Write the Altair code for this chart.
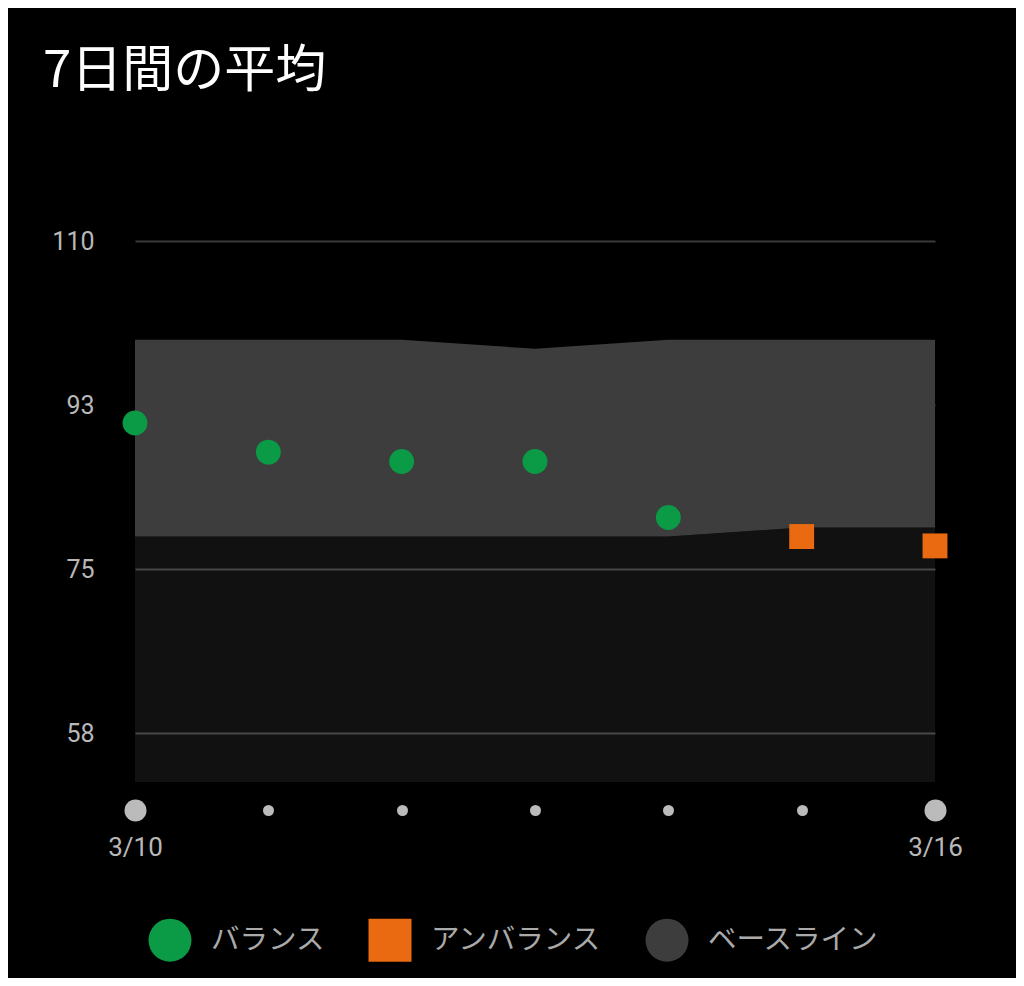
import altair as alt
import pandas as pd

dates = ["3/10", "3/11", "3/12", "3/13", "3/14", "3/15", "3/16"]
base_upper = [99.56, 99.56, 99.56, 98.61, 99.56, 99.56, 99.56]
base_lower = [78.77, 78.77, 78.77, 78.77, 78.77, 79.72, 79.72]
values = [90.76, 87.69, 86.70, 86.70, 80.78, 78.77, 77.78]
status = ["バランス", "バランス", "バランス", "バランス", "バランス", "アンバランス", "アンバランス"]

legend_names = ["バランス", "アンバランス", "ベースライン"]
legend_colors = ["#0b9a45", "#ea6a11", "#3d3d3d"]
legend_shapes = ["circle", "square", "circle"]

y_ticks = [58, 75.333, 92.667, 110]
y_domain = [52.83, 110]

band_df = pd.DataFrame({"date": dates, "upper": base_upper, "lower": base_lower})
pts_df = pd.DataFrame({"date": dates, "value": values, "status": status})

JP = "Noto Sans CJK JP"
NUM = "Roboto"

x_enc = alt.X(
    "date:O",
    sort=dates,
    scale=alt.Scale(type="point", padding=0),
    axis=alt.Axis(
        title=None,
        domain=False,
        grid=False,
        ticks=True,
        tickSize=0.01,
        tickCap="round",
        tickColor="#bbbbbb",
        tickWidth={"condition": {"test": "datum.value == '3/10' || datum.value == '3/16'", "value": 22}, "value": 11},
        offset=28,
        labelAngle=0,
        labelExpr="(datum.value == '3/10' || datum.value == '3/16') ? datum.label : ''",
        labelFont=NUM,
        labelFontSize=26,
        labelColor="#b8b8b8",
        labelPadding=24,
    ),
)

y_scale = alt.Scale(domain=y_domain, nice=False, zero=False)
y_axis = alt.Axis(
    title=None,
    values=y_ticks,
    format=".0f",
    domain=False,
    ticks=False,
    tickSize=0,
    labelFont=NUM,
    labelFontSize=25,
    labelColor="#b8b8b8",
    labelPadding=41,
    gridColor="#3a3a3a",
    gridWidth=2,
    zindex=0,
)

lower_area = alt.Chart(band_df).mark_area(color="#ffffff", opacity=0.067, interpolate="linear").encode(
    x=x_enc,
    y=alt.Y("lower:Q", scale=y_scale, axis=y_axis, stack=None),
)

band = alt.Chart(band_df).mark_area(color="#3d3d3d", opacity=1, interpolate="linear").encode(
    x=alt.X("date:O", sort=dates),
    y=alt.Y("lower:Q", stack=None),
    y2="upper:Q",
)

points = alt.Chart(pts_df).mark_point(filled=True, opacity=1, size=620, strokeWidth=0).encode(
    x=alt.X("date:O", sort=dates),
    y=alt.Y("value:Q"),
    color=alt.Color(
        "status:N",
        scale=alt.Scale(domain=legend_names, range=legend_colors),
        legend=alt.Legend(
            title=None,
            orient="none",
            direction="horizontal",
            legendX=13,
            legendY=677,
            padding=0,
            symbolSize=1850,
            symbolStrokeWidth=0,
            symbolOpacity=1,
            labelFont=JP,
            labelFontSize=28.5,
            labelColor="#aaaaaa",
            labelOffset=19,
            labelLimit=400,
            columnPadding=42,
        ),
    ),
    shape=alt.Shape(
        "status:N",
        scale=alt.Scale(domain=legend_names, range=legend_shapes),
        legend=None,
    ),
)

chart = alt.layer(lower_area, band, points).properties(
    width=800,
    height=541,
    padding={"left": 127, "top": 233, "right": 81, "bottom": 196},
    autosize=alt.AutoSizeParams(type="none"),
    background="#000000",
    title=alt.Title(
        "7日間の平均",
        anchor="start",
        frame="group",
        dx=-92,
        offset=91,
        baseline="alphabetic",
        font=JP,
        fontSize=51,
        fontWeight="normal",
        color="#ffffff",
    ),
).configure_view(stroke=None)

chart.save("out.html", embed_options={"renderer": "svg", "actions": False})
